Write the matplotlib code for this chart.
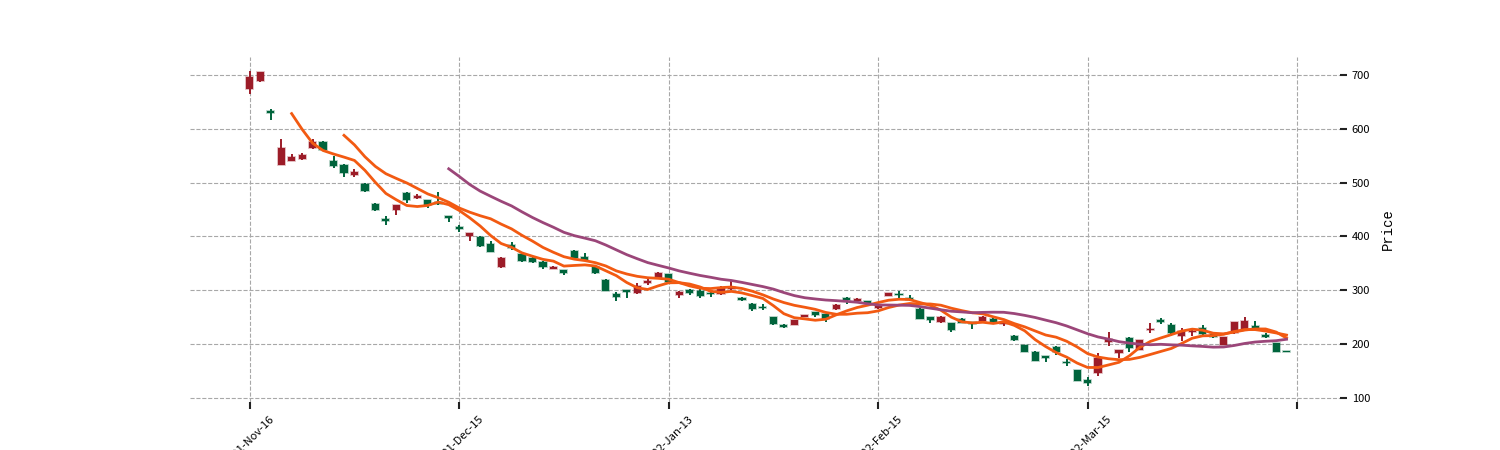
import matplotlib
matplotlib.use('Agg')
import matplotlib.pyplot as plt
import pandas as pd
import numpy as np

# daily OHLC (100 sessions)
opens = [673.5, 689.5, 634, 532, 541, 544, 564, 576, 541, 533,
         513.6, 498, 461, 433, 449, 481, 471.6, 468, 464, 438,
         418, 400, 399, 386, 342.6, 385, 367, 360, 352, 339.5,
         337.6, 373.5, 362, 344, 320, 293, 300.6, 294.4, 313.6, 323,
         329.7, 291.3, 300, 298, 295.7, 292.6, 303, 286.4, 275, 269,
         250.5, 235.6, 235.6, 250.5, 259.8, 255.4, 264.7, 285, 280.2, 279.4,
         267, 289.4, 293.8, 286, 266, 250, 240.6, 238.8, 246.9, 240.6,
         243, 247.5, 238.1, 216, 198.75, 186, 178, 195, 167.5, 151.7,
         132.5, 145.5, 204.3, 183.9, 210.5, 190, 226, 244.6, 235.3, 215.5,
         221.7, 230.3, 218, 198, 219.8, 229, 233.4, 217.3, 201.2, 187.6]
highs = [708, 706, 636, 582, 554, 556, 581, 577, 550, 534,
         525, 499, 462, 437.6, 459, 483, 479, 468, 483, 438,
         421, 406, 400, 392, 361, 389, 368, 361, 355, 345,
         338, 375, 370, 345, 321, 296, 301, 313, 321, 334,
         331, 298, 302, 302, 300.6, 308, 317, 287, 276, 274,
         251, 238, 245, 255, 260.5, 256, 275, 287.6, 285.5, 280,
         272.5, 295, 298, 290.6, 267, 251, 252, 239.5, 249, 241,
         252, 248, 242, 217, 199, 186.5, 178.5, 196.9, 171.9, 152,
         139.3, 182.7, 222.9, 189.5, 212.4, 207.5, 238.4, 249, 238.4, 230.3,
         229, 235.3, 219, 214, 241.5, 250.8, 243.3, 221, 201.5, 188]
lows = [664, 688, 617, 532, 540, 543, 562, 560, 528, 510.5,
        510.5, 483, 447, 421, 440, 462, 470, 453, 458, 427,
        408, 391, 381, 371, 342, 375, 353, 351, 339.5, 339,
        329, 359, 355, 331, 299, 280, 285, 293, 309, 322,
        314, 286, 290.7, 286, 288, 292, 300.6, 280.5, 261.6, 263.5,
        235, 230.6, 235, 250, 250.5, 241.8, 264, 275, 279.5, 275,
        266, 289, 286, 280, 247, 239.4, 240, 221.9, 239, 228,
        242.5, 238, 233, 206, 186, 168, 166.9, 180, 159, 131,
        122, 140.6, 196.3, 174.6, 184.5, 189.5, 221, 236.5, 214.9, 206.2,
        215.5, 216.7, 212, 197.5, 218, 228.5, 228.5, 210.5, 184.5, 185]
closes = [697, 705, 629, 564, 547, 551, 576, 561, 531.5, 518,
          520, 484, 449, 429, 459, 467, 474.5, 459, 460.5, 434.6,
          413.6, 406, 383, 372, 360.5, 378, 354, 352, 343, 344,
          332, 360, 357, 333, 299.4, 287, 296, 308.6, 316.6, 333,
          315.5, 297.5, 295.7, 289.5, 293, 305, 306.8, 281.4, 264.7, 266.6,
          238, 232, 244.3, 253.6, 254, 247.4, 272.8, 281.4, 284.5, 275.6,
          271.9, 294.4, 290.6, 282, 247.5, 245, 250, 225.6, 239.4, 236.9,
          251.3, 238.8, 240.6, 206.9, 186.3, 168.75, 175, 185, 164.4, 131.3,
          127.6, 174.6, 208.7, 188.9, 192, 206.8, 229, 240.9, 219.8, 224.8,
          224.8, 218.6, 213.6, 213.6, 241.5, 243.3, 229, 213.6, 185.1, 185.1]

tick_pos = [0, 20, 40, 60, 80, 100]
tick_labels = ['2021-Nov-16', '2021-Dec-15', '2022-Jan-13', '2022-Feb-15', '2022-Mar-15', '']
mav_windows = [5, 10, 20]

up_color = '#9c1c28'
down_color = '#00643c'
mav_colors = ['#f25a12', '#f25a12', '#9b4679']

df = pd.DataFrame({'Open': opens, 'High': highs, 'Low': lows, 'Close': closes})
x = np.arange(len(df))
up = df['Close'] >= df['Open']
colors = [up_color if u else down_color for u in up]

fig = plt.figure(figsize=(15, 4.5), dpi=100)
ax = fig.add_axes([0.1267, 0.1067, 0.7666, 0.7666])

# wicks
ax.vlines(x, df['Low'], df['High'], colors=colors, linewidth=1.4, zorder=2)
# bodies
body_bottom = np.minimum(df['Open'], df['Close'])
body_height = np.abs(df['Close'] - df['Open'])
body_height = np.maximum(body_height, 0.8)
ax.bar(x, body_height, bottom=body_bottom, width=0.68, color=colors,
       edgecolor=[(c, 0.35) for c in colors], linewidth=1.2, zorder=3)

for w, c in zip(mav_windows, mav_colors):
    ax.plot(x, df['Close'].rolling(w).mean(), color=c, linewidth=2, zorder=4)

ax.set_xlim(-5.7, 104.1)
ax.set_ylim(92.5, 733.5)

for s in ax.spines.values():
    s.set_visible(False)
ax.grid(True, linestyle='--', color='#a8a8a8', linewidth=0.8)
ax.set_axisbelow(True)

ax.yaxis.tick_right()
ax.yaxis.set_label_position('right')
ax.set_yticks([100, 200, 300, 400, 500, 600, 700])
ax.set_xticks(tick_pos)
ax.set_xticklabels(tick_labels, rotation=45, fontsize=8, family=['Noto Sans CJK SC', 'DejaVu Sans'])
for lab in ax.get_yticklabels():
    lab.set_fontsize(8)
    lab.set_family(['Noto Sans CJK SC', 'DejaVu Sans'])
ax.tick_params(axis='both', length=5, width=1.5, color='#222222')
ax.set_ylabel('Price', fontsize=10, family='Liberation Mono', labelpad=8)

fig.savefig('out.png', dpi=100)
